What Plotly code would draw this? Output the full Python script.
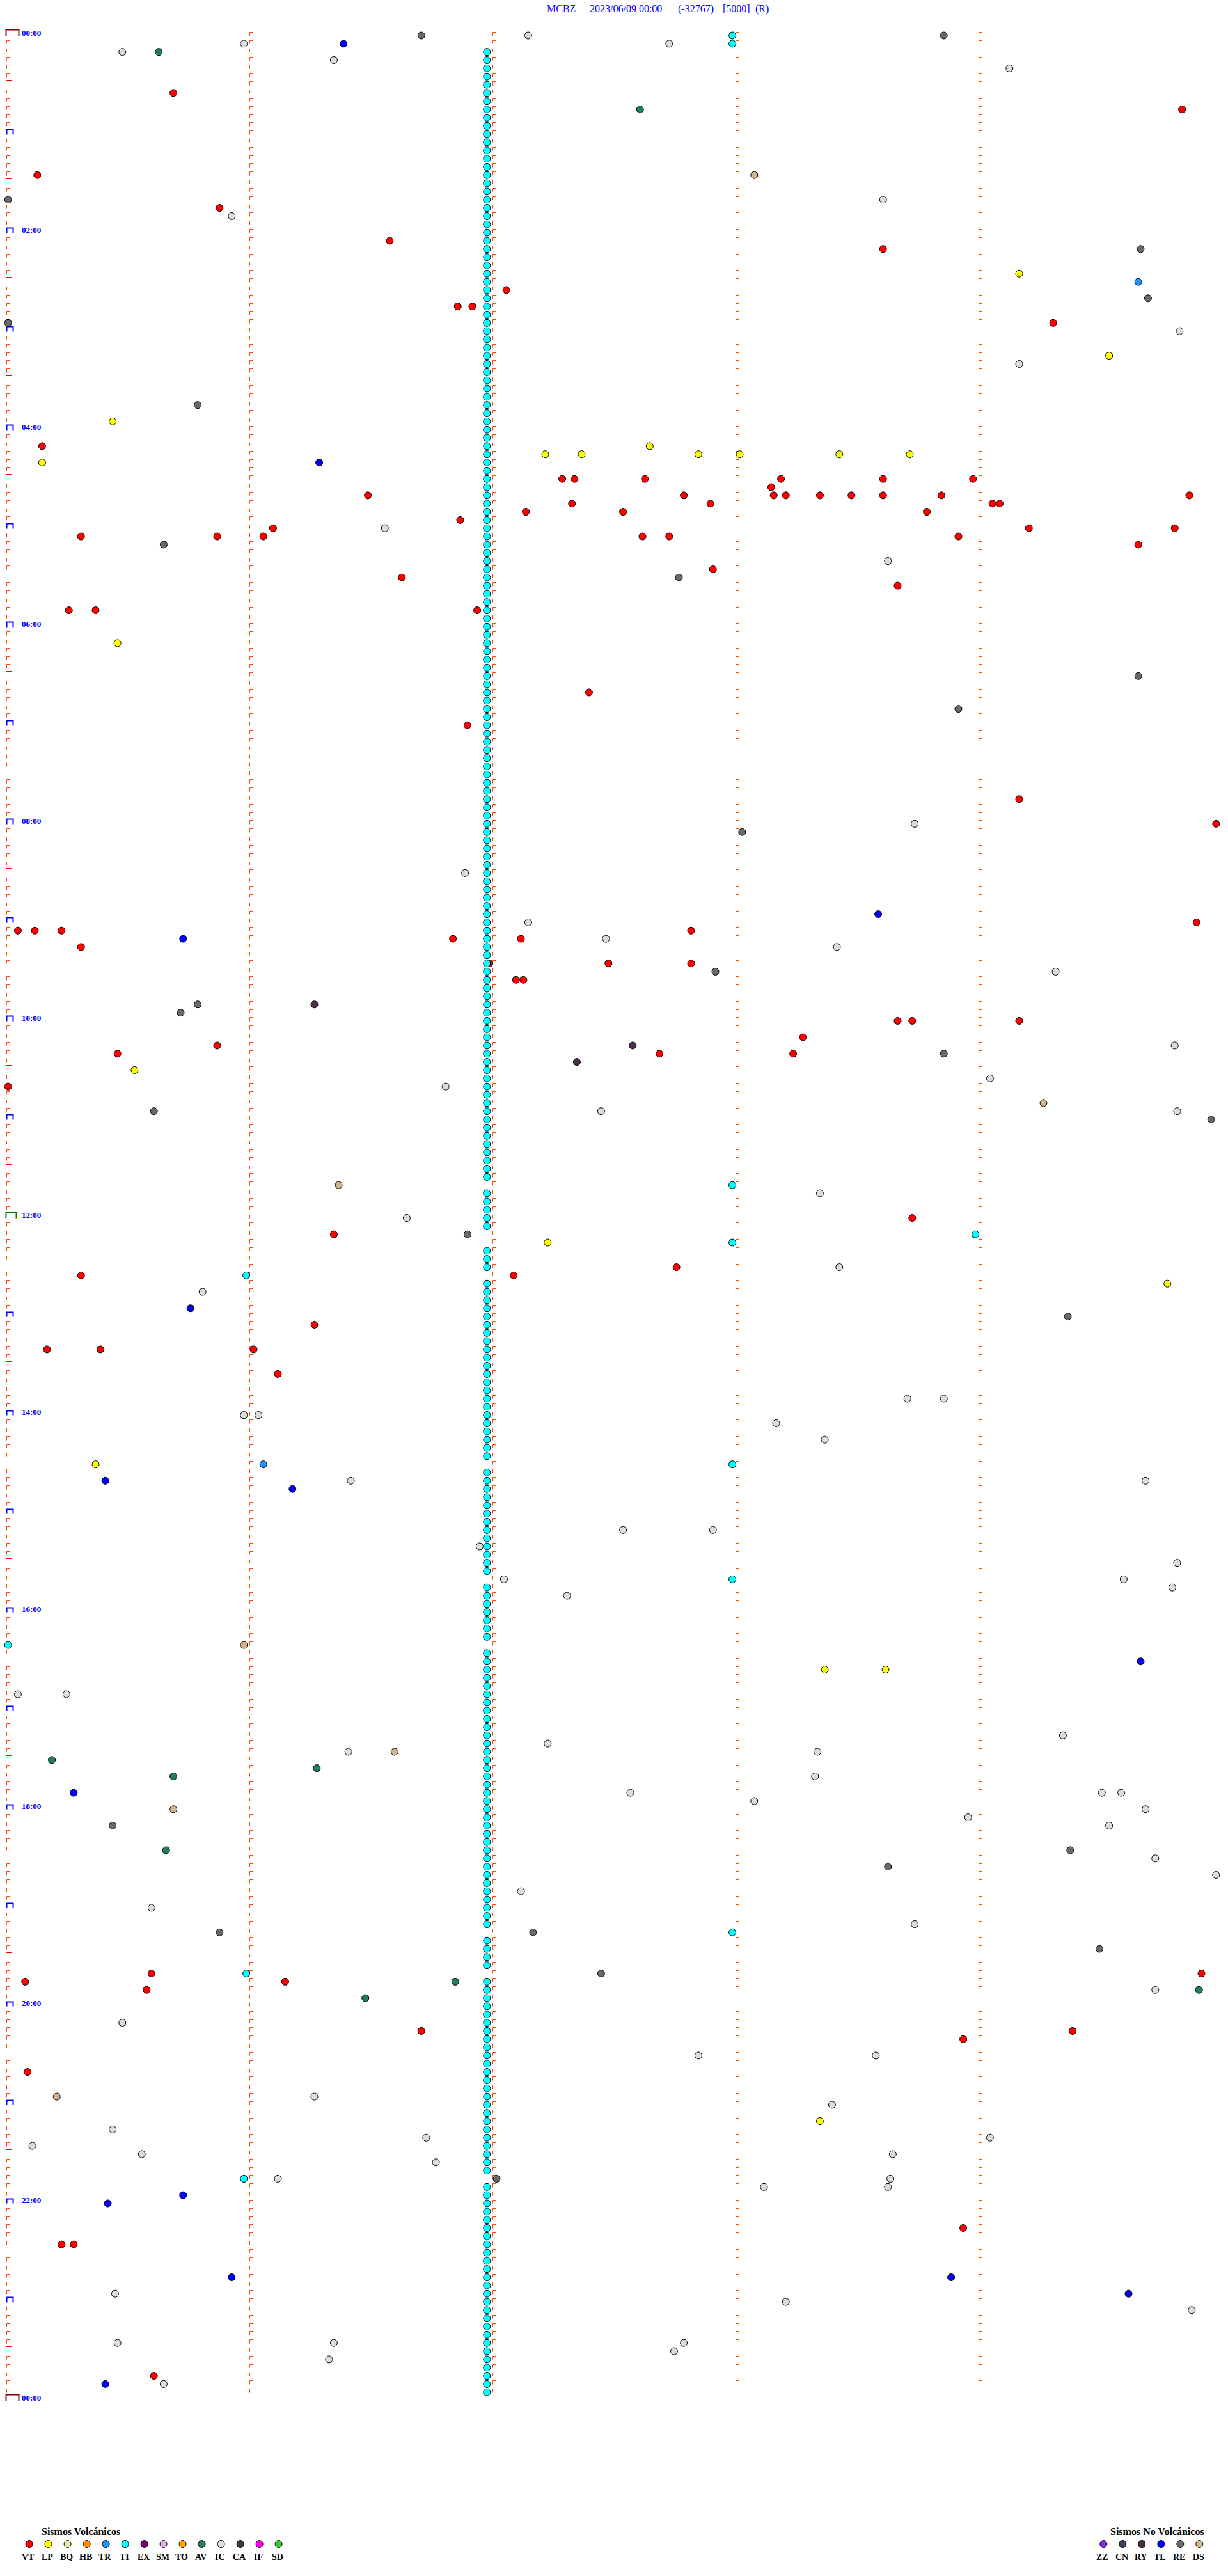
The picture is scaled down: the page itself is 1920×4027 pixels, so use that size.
import math
import plotly.graph_objects as go

# ---------------------------------------------------------------------------
# DATA  (event times in minutes after 00:00 of 2023/06/09)
# ---------------------------------------------------------------------------
VT = [35.68, 49.83, 85.12, 105.87, 126.57, 133.60, 157.05, 166.85, 166.91, 179.30,
      250.14, 272.28, 272.33, 272.62, 273.18, 273.60, 273.97, 278.14, 281.48, 282.78,
      283.15, 283.20, 283.34, 283.47, 283.60, 283.84, 284.86, 287.32, 287.89, 289.05,
      289.08, 292.13, 292.53, 293.78, 296.86, 301.09, 304.20, 304.80, 305.30, 305.86,
      306.05, 307.61, 307.72, 308.91, 314.65, 327.90, 331.62, 338.66, 350.25, 350.36,
      351.93, 402.39, 421.89, 469.16, 484.97, 544.89, 545.04, 545.11, 545.22, 547.81,
      551.83, 552.11, 555.30, 566.98, 567.47, 567.81, 577.09, 577.12, 603.66, 603.72,
      604.16, 613.27, 615.86, 620.45, 622.68, 623.23, 640.00, 723.72, 731.34, 752.75,
      755.30, 757.08, 786.26, 800.16, 800.38, 801.01, 816.11, 1180.59, 1184.91, 1185.07,
      1186.14, 1190.57, 1216.70, 1219.38, 1223.93, 1240.08, 1338.93, 1345.22, 1345.27,
      1425.60]

LP = [149.16, 199.53, 235.43, 252.64, 257.21, 257.36, 257.84, 258.01, 258.42, 258.71,
      260.14, 370.45, 630.52, 737.22, 764.77, 870.36, 998.36, 998.61, 1273.34]

TR = [154.65, 871.05]

TI = [2.98, 7.98,
      11.97, 16.97, 21.97, 26.97, 31.97, 36.97, 41.97, 46.97, 51.97, 56.97,
      61.97, 66.97, 71.97, 76.97, 81.97, 86.97, 91.97, 96.97, 101.97, 106.97, 111.97, 116.97,
      121.97, 126.97, 131.97, 136.97, 141.97, 146.97, 151.97, 156.97, 161.97, 166.97, 171.97, 176.97,
      181.97, 186.97, 191.97, 196.97, 201.97, 206.97, 211.97, 216.97, 221.97, 226.97, 231.97, 236.97,
      241.97, 246.97, 251.97, 256.97, 261.97, 266.97, 271.97, 276.97, 281.97, 286.97, 291.97, 296.97,
      301.97, 306.97, 311.97, 316.97, 321.97, 326.97, 331.97, 336.97, 341.97, 346.97, 351.97, 356.97,
      361.97, 366.97, 371.97, 376.97, 381.97, 386.97, 391.97, 396.97, 401.97, 406.97, 411.97, 416.97,
      421.97, 426.97, 431.97, 436.97, 441.97, 446.97, 451.97, 456.97, 461.97, 466.97, 471.97, 476.97,
      481.97, 486.97, 491.97, 496.97, 501.97, 506.97, 511.97, 516.97, 521.97, 526.97, 531.97, 536.97,
      541.97, 546.97, 551.97, 556.97, 561.97, 566.97, 571.97, 576.97, 581.97, 586.97, 591.97, 596.97,
      601.97, 606.97, 611.97, 616.97, 621.97, 626.97, 631.97, 636.97, 641.97, 646.97, 651.97, 656.97,
      661.97, 666.97, 671.97, 676.97, 681.97, 686.97, 691.97, 696.97, 702.98, 706.97, 711.97, 716.97,
      721.97, 726.97, 733.98, 737.98, 741.97, 746.97, 751.97, 755.98, 761.97, 766.97, 771.97, 776.97,
      781.97, 786.97, 791.97, 796.97, 801.97, 806.97, 811.97, 816.97, 821.97, 826.97, 831.97, 836.97,
      841.97, 846.97, 851.97, 856.97, 861.97, 866.97, 872.98, 876.97, 881.97, 886.97, 891.97, 896.97,
      901.97, 906.97, 911.97, 916.97, 921.97, 926.97, 931.97, 936.97, 942.98, 946.97, 951.97, 956.97,
      961.97, 966.97, 971.97, 976.97, 980.00, 986.97, 991.97, 996.97, 1001.97, 1006.97, 1011.97, 1016.97,
      1021.97, 1026.97, 1031.97, 1036.97, 1041.97, 1046.97, 1051.97, 1056.97, 1061.97, 1066.97, 1071.97, 1076.97,
      1081.97, 1086.97, 1091.97, 1096.97, 1101.97, 1106.97, 1111.97, 1116.97, 1121.97, 1126.97, 1131.97, 1136.97,
      1141.97, 1146.97, 1151.97, 1157.98, 1161.97, 1166.97, 1171.97, 1176.97, 1180.98, 1186.97, 1191.97, 1196.97,
      1201.97, 1206.97, 1211.97, 1216.97, 1221.97, 1226.97, 1231.97, 1236.97, 1241.97, 1246.97, 1251.97, 1256.97,
      1261.97, 1266.97, 1271.97, 1276.97, 1281.97, 1286.97, 1291.97, 1296.97, 1301.97, 1305.97, 1311.97, 1316.97,
      1321.97, 1326.97, 1331.97, 1336.97, 1341.97, 1346.97, 1351.97, 1356.97, 1361.97, 1366.97, 1371.97, 1376.97,
      1381.97, 1386.97, 1391.97, 1396.97, 1401.97, 1406.97, 1411.97, 1416.97, 1421.97, 1426.97, 1431.97, 1436.97]

AV = [10.62, 47.60, 1050.18, 1056.27, 1060.68, 1105.65, 1186.84, 1194.90, 1196.47]

IC = [2.14, 5.97, 7.72, 10.47, 16.34, 24.12, 103.60, 110.92, 184.82, 204.16,
      301.55, 323.62, 483.73, 511.88, 542.14, 552.46, 558.41, 574.31, 619.80, 639.04,
      641.80, 657.44, 659.81, 708.34, 721.64, 753.42, 765.80, 833.70, 833.85, 840.97,
      841.03, 848.16, 858.36, 881.41, 884.68, 912.53, 912.90, 921.94, 934.81, 942.04,
      944.59, 949.79, 952.30, 1010.04, 1010.24, 1039.34, 1042.22, 1046.40, 1048.33, 1063.32,
      1072.56, 1074.50, 1074.58, 1078.07, 1084.68, 1088.95, 1094.53, 1114.72, 1124.97, 1132.11,
      1140.59, 1153.73, 1194.72, 1210.47, 1232.84, 1233.57, 1256.26, 1263.39, 1275.43, 1281.72,
      1284.04, 1285.10, 1290.55, 1293.64, 1296.76, 1306.11, 1308.63, 1313.11, 1313.62, 1375.44,
      1383.20, 1389.87, 1405.45, 1406.34, 1407.78, 1412.74, 1416.32, 1430.64]

CA = [591.26, 617.57, 627.34]

TL = [6.38, 261.28, 538.58, 550.72, 775.75, 880.40, 886.17, 994.66, 1070.27, 1315.72,
      1320.41, 1365.92, 1368.88, 1379.61, 1430.40]

RE = [1.70, 3.85, 100.00, 134.66, 164.69, 175.00, 225.78, 310.64, 332.76, 394.65,
      413.91, 488.02, 572.91, 590.78, 595.71, 623.85, 655.60, 664.95, 731.89, 784.36,
      1090.43, 1109.37, 1118.62, 1155.87, 1157.16, 1169.49, 1182.44, 1307.01]

DS = [88.07, 654.26, 701.36, 980.97, 1046.59, 1080.68, 1255.20]

VOLC_CODES = ["VT", "LP", "BQ", "HB", "TR", "TI", "EX", "SM", "TO", "AV", "IC", "CA", "IF", "SD"]
VOLC_COLORS = ["#FF0000", "#FFFF00", "#EEE8AA", "#FF8C00", "#1E90FF", "#00FFFF", "#800080",
               "#E8A8E8", "#FFA500", "#1F7F5F", "#DCDCDC", "#4D2F4D", "#FF00FF", "#32CD32"]
NONVOLC_CODES = ["ZZ", "CN", "RY", "TL", "RE", "DS"]
NONVOLC_COLORS = ["#8030D8", "#4B3B5B", "#4B2845", "#0000FF", "#696969", "#D2B48C"]

TITLE_PARTS = ["MCBZ", "2023/06/09 00:00", "(-32767)", "[5000]", "(R)"]
ROW_MINUTES = 5          # each drum line covers 5 minutes
N_ROWS = 288             # 24 h
TICK_COLUMNS = [0, 1, 2, 3, 4]  # minute marks on every line

# ---------------------------------------------------------------------------
# GEOMETRY (page pixels; body margin is removed by the post script)
# ---------------------------------------------------------------------------
W, H = 1920, 4027
OFF = 0
X0, PX_X = 12.7, 380.0                  # px of minute 0, px per minute
Y0, PX_Y = 53.0, 12.837 / ROW_MINUTES   # px of row 0, px per row-minute
CIRCLE_DY = 2.5 / PX_Y


def dx(px):
    return px / PX_X


def dy(py):
    return py / PX_Y


def mx(px):
    return (px - X0) / PX_X


def my(py):
    return (py - Y0) / PX_Y


def snap(v):
    return math.floor(v) + 0.5


def paper_x(px):
    return (px - OFF) / W


def paper_y(py):
    return 1 - (py - OFF) / H


fig = go.Figure()


def glyph_trace(items, color, width):
    xs, ys = [], []
    for (col, ry, left, right, top, bottom) in items:
        cxp = X0 + col * PX_X
        cyp = Y0 + ry * PX_Y
        l, r = mx(snap(cxp + left)), mx(snap(cxp + right))
        t, b = my(snap(cyp + top)), my(snap(cyp + bottom))
        xs += [l, l, r, r, None]
        ys += [b, t, t, b, None]
    fig.add_trace(go.Scatter(x=xs, y=ys, mode="lines", hoverinfo="skip",
                             line=dict(color=color, width=width), showlegend=False))


normal, half, hour, day, noon = [], [], [], [], []
for k in range(N_ROWS + 1):
    ry = k * ROW_MINUTES
    for c in TICK_COLUMNS:
        if c == 0:
            if k == 0 or k == N_ROWS:
                day.append((c, ry, -3.0, 16.5, -6.5, 3.0))
            elif k == N_ROWS // 2:
                noon.append((c, ry, -3.0, 12.5, -6.5, 3.0))
            elif k % 12 == 0:
                hour.append((c, ry, -2.5, 7.5, -4.5, 3.0))
            elif k % 6 == 0:
                half.append((c, ry, -2.8, 5.6, -4.5, 3.0))
            elif k < N_ROWS:
                normal.append((c, ry, -2.5, 2.5, -2.5, 3.0))
        elif k < N_ROWS:
            normal.append((c, ry, -2.5, 2.5, -2.5, 3.0))

glyph_trace(normal, "#FF4500", 1)
glyph_trace(half, "#FF0000", 1)
glyph_trace(hour, "#0000FF", 2)
glyph_trace(day, "#800000", 2)
glyph_trace(noon, "#008000", 2)

# ---------------------------------------------------------------------------
# EVENTS
# ---------------------------------------------------------------------------
color_of = dict(zip(VOLC_CODES + NONVOLC_CODES, VOLC_COLORS + NONVOLC_COLORS))
series = [("VT", VT), ("LP", LP), ("TR", TR), ("AV", AV), ("IC", IC), ("CA", CA),
          ("TL", TL), ("RE", RE), ("DS", DS), ("TI", TI)]
for code, times in series:
    xs, ys = [], []
    for t in times:
        row = math.floor(t / ROW_MINUTES + 1e-9) * ROW_MINUTES
        xs.append(t - row)
        ys.append(row + CIRCLE_DY)
    fig.add_trace(go.Scatter(x=xs, y=ys, mode="markers", name=code, hoverinfo="skip",
                             marker=dict(size=11, color=color_of[code],
                                         line=dict(color="black", width=1)),
                             showlegend=False))

# time labels every 2 hours
annotations = []
for k in range(0, N_ROWS + 1, 24):
    hh = (k * ROW_MINUTES // 60) % 24
    annotations.append(dict(x=mx(32), y=k * ROW_MINUTES - dy(2), xref="x", yref="y",
                            text=f"<b>{hh:02d}:00</b>", showarrow=False, xanchor="left",
                            yanchor="middle",
                            font=dict(family="Liberation Serif", size=13, color="#0000FF")))

# title
title_x = [853, 920, 1058, 1128, 1179]
for txt, px in zip(TITLE_PARTS, title_x):
    annotations.append(dict(x=paper_x(px), y=paper_y(13.5), xref="paper", yref="paper",
                            text=txt, showarrow=False, xanchor="left", yanchor="middle",
                            font=dict(family="Liberation Serif", size=16, color="#0000FF")))


# legends
def legend_block(title, title_px, codes, colors, x_start):
    annotations.append(dict(x=paper_x(title_px), y=paper_y(3957), xref="paper", yref="paper",
                            text="<b>" + title + "</b>", showarrow=False, xanchor="left",
                            yanchor="middle",
                            font=dict(family="Liberation Serif", size=16, color="black")))
    xs = [mx(x_start + 30 * i) for i in range(len(codes))]
    fig.add_trace(go.Scatter(x=xs, y=[my(3977)] * len(codes), mode="markers",
                             hoverinfo="skip", showlegend=False,
                             marker=dict(size=11, color=colors,
                                         line=dict(color="black", width=1))))
    for i, code in enumerate(codes):
        annotations.append(dict(x=paper_x(x_start + 30 * i - 1.5), y=paper_y(3997),
                                xref="paper", yref="paper", text="<b>" + code + "</b>",
                                showarrow=False, xanchor="center", yanchor="middle",
                                font=dict(family="Liberation Serif", size=14, color="black")))


legend_block("Sismos Volcánicos", 63, VOLC_CODES, VOLC_COLORS, 45.6)
legend_block("Sismos No Volcánicos", 1734, NONVOLC_CODES, NONVOLC_COLORS, 1725.3)

fig.update_layout(
    width=W, height=H,
    margin=dict(l=0, r=0, t=0, b=0, pad=0),
    paper_bgcolor="white", plot_bgcolor="white",
    xaxis=dict(range=[mx(OFF), mx(OFF + W)], visible=False, showgrid=False,
               zeroline=False, fixedrange=True),
    yaxis=dict(range=[my(OFF + H), my(OFF)], visible=False, showgrid=False,
               zeroline=False, fixedrange=True),
    annotations=annotations,
    showlegend=False,
)

fig.write_html("out.html", config={"displayModeBar": False},
               post_script="document.body.style.margin='0px';"
                           "document.body.style.overflow='hidden';")
